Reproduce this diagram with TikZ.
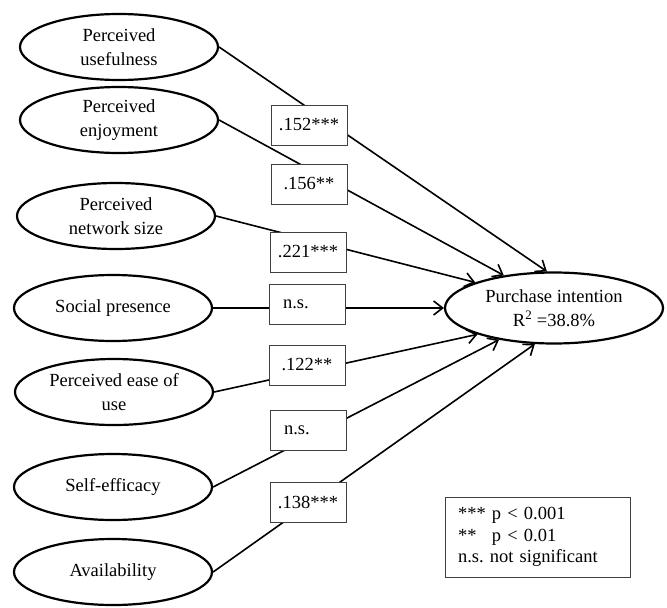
\documentclass[tikz,border=0pt]{standalone}
\usepackage{fontspec}
\setmainfont{Liberation Serif}
\usetikzlibrary{arrows.meta,shapes.geometric}
\frenchspacing

\begin{document}
\begin{tikzpicture}[x=1pt,y=-1pt,>={Straight Barb[length=9pt,width=14pt]},
  every node/.style={font=\fontsize{18.5}{23.5}\selectfont},
  construct/.style={ellipse,draw,line width=2.2pt,minimum width=198pt,minimum height=66pt,inner sep=0pt,align=center},
  coef/.style={rectangle,draw=black!75,line width=0.9pt,fill=white,minimum width=76pt,minimum height=40pt,inner sep=0pt},
  nsbox/.style={text width=48pt,align=left,inner xsep=14pt},
  link/.style={->,line width=1.6pt}]
\useasboundingbox (0,0) rectangle (667,608);
% antecedents
\node[construct] (pu) at (119,47) {Perceived\\usefulness};
\node[construct] (pe) at (119,120) {Perceived\\enjoyment};
\node[construct] (pns) at (116,216) {Perceived\\network size};
\node[construct] (sp) at (113,308) {Social presence};
\node[construct] (peou) at (114,392) {Perceived ease of\\use};
\node[construct] (se) at (113,487) {Self-efficacy};
\node[construct] (av) at (113,572) {Availability};
% outcome
\node[construct,minimum width=218pt,minimum height=71pt] (pi) at (554,308) {Purchase intention\\R\textsuperscript{2} =38.8\%};
% paths
\draw[link] (pu.east) -- (pi.101);
\draw[link] (pe.east) -- (pi.147);
\draw[link] (pns.east) -- (pi.162);
\draw[link] (sp.east) -- (pi.west);
\draw[link] (peou.east) -- (pi.199);
\draw[link] (se.east) -- (pi.210);
\draw[link] (av.east) -- (pi.242);
% coefficients
\node[coef] (c1) at (309,125) {.152***};
\node[coef] (c2) at (309,184) {.156**};
\node[coef] (c3) at (308,252) {.221***};
\node[coef,nsbox] (c4) at (307,304) {n.s.};
\node[coef] (c5) at (307,365) {.122**};
\node[coef,nsbox] (c6) at (308,430) {n.s.};
\node[coef] (c7) at (308,502) {.138***};
% key
\node[draw=black!75,line width=0.9pt,minimum height=80pt,text width=160pt,inner xsep=12.5pt,align=left,font=\fontsize{18.5}{21.5}\selectfont] (key) at (538,537) {*** p < 0.001\\{}**\phantom{*} p < 0.01\\n.s. not significant};
\end{tikzpicture}
\end{document}
